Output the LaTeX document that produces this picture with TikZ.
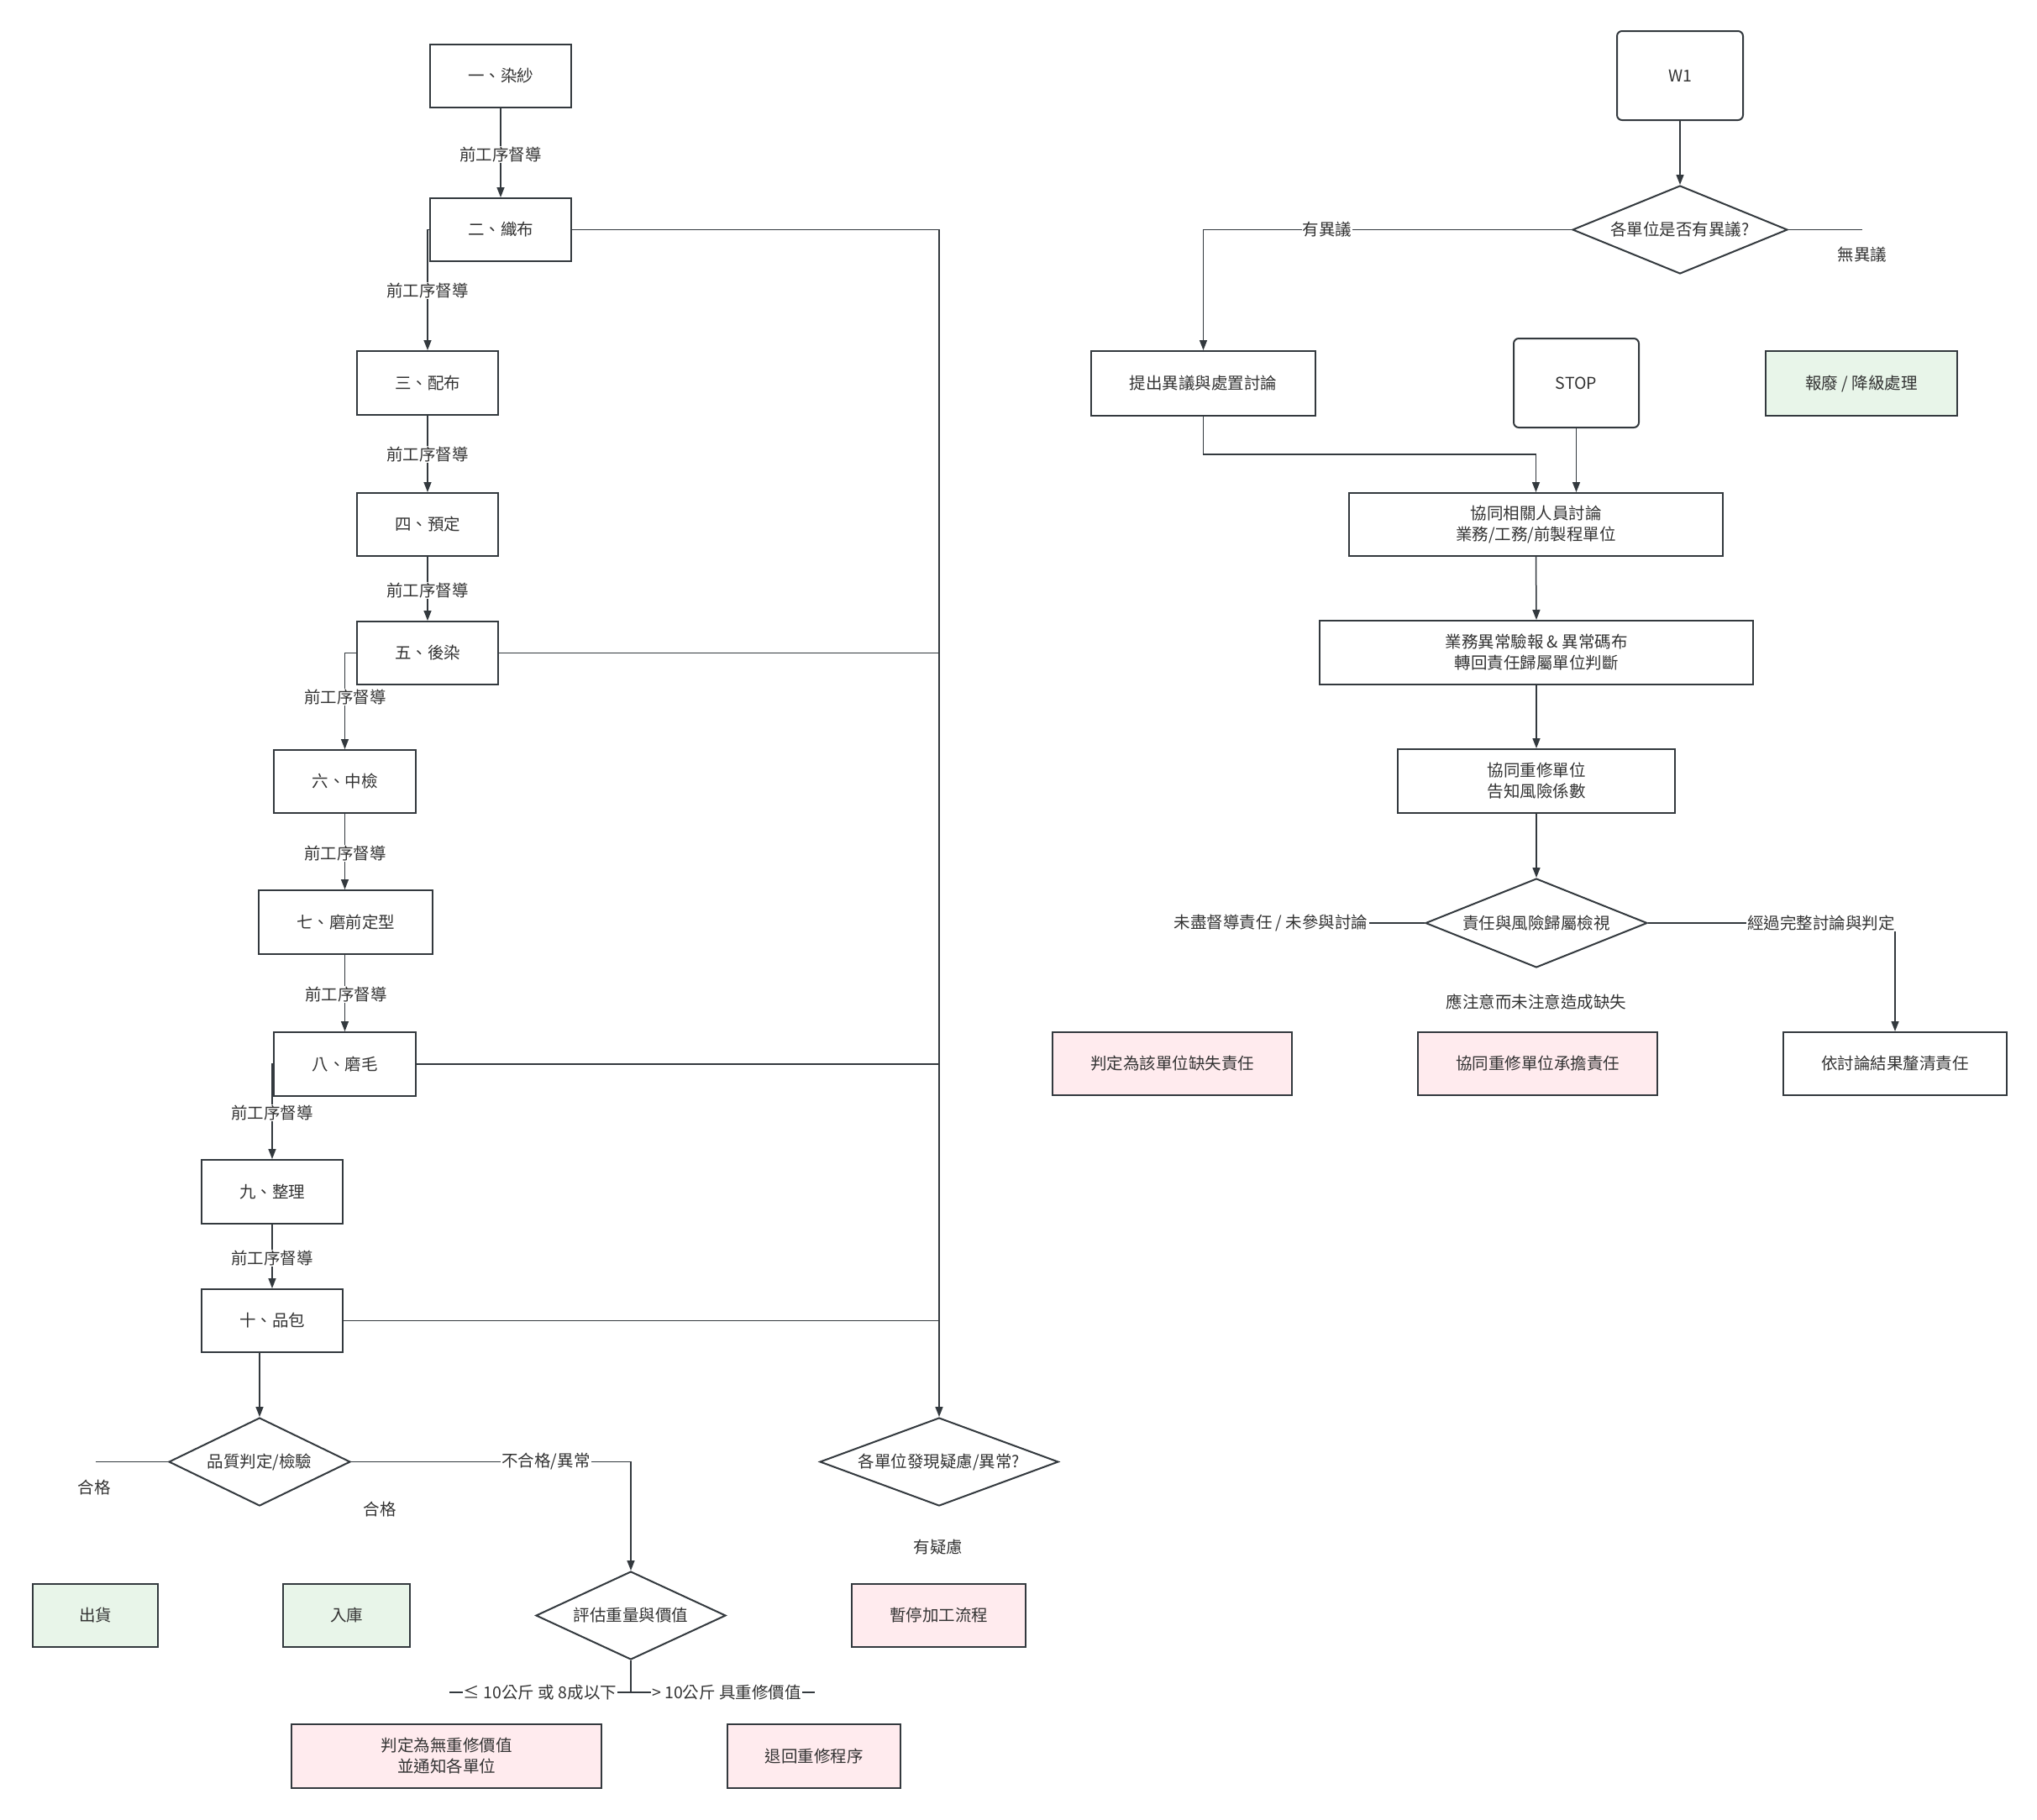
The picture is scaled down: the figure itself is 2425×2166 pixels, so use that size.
\documentclass[tikz,border=0pt]{standalone}
\usepackage{fontspec}
\setmainfont{Noto Sans CJK TC}
\usetikzlibrary{arrows.meta,shapes.geometric}
\definecolor{bd}{HTML}{33393E}
\definecolor{tx}{HTML}{333333}
\definecolor{gfill}{HTML}{E8F5E9}
\definecolor{pfill}{HTML}{FFEBEE}
\begin{document}
\begin{tikzpicture}[x=1pt,y=-1pt,
  every node/.style={font=\fontsize{19.5pt}{25pt}\selectfont, text=tx},
  box/.style={draw=bd, line width=2pt, fill=white, inner sep=0pt, align=center},
  gbox/.style={box, fill=gfill},
  pbox/.style={box, fill=pfill},
  rbox/.style={box, rounded corners=6pt},
  dia/.style={draw=bd, line width=2pt, diamond, inner sep=0pt, fill=white},
  con/.style={draw=bd, line width=1.5pt},
  arr/.style={con, -{Triangle[length=12pt,width=9pt]}},
  lbl/.style={fill=white, inner sep=1pt},
  txt/.style={inner sep=1pt},
]
\useasboundingbox (0,0) rectangle (2425,2166);

% ---------- left column ----------
\node[box, minimum width=168pt, minimum height=75pt] (n1) at (596,90.5) {一、染紗};
\node[box, minimum width=168pt, minimum height=75pt] (n2) at (596,273.5) {二、織布};
\node[box, minimum width=168pt, minimum height=76pt] (n3) at (509,456) {三、配布};
\node[box, minimum width=168pt, minimum height=75pt] (n4) at (509,624.5) {四、預定};
\node[box, minimum width=168pt, minimum height=75pt] (n5) at (509,777.5) {五、後染};
\node[box, minimum width=169pt, minimum height=75pt] (n6) at (410.5,930.5) {六、中檢};
\node[box, minimum width=207pt, minimum height=76pt] (n7) at (411.5,1098) {七、磨前定型};
\node[box, minimum width=169pt, minimum height=76pt] (n8) at (410.5,1267) {八、磨毛};
\node[box, minimum width=168pt, minimum height=76pt] (n9) at (324,1419) {九、整理};
\node[box, minimum width=168pt, minimum height=75pt] (n10) at (324,1572.5) {十、品包};

\node[dia, minimum width=216pt, minimum height=105pt, aspect=2.057] (qc) at (309,1740.5) {品質判定/檢驗};
\node[dia, minimum width=284pt, minimum height=105pt, aspect=2.705] (qx) at (1118,1740.5) {各單位發現疑慮/異常?};
\node[dia, minimum width=226pt, minimum height=105pt, aspect=2.152] (ev) at (751,1923.5) {評估重量與價值};

\node[gbox, minimum width=149pt, minimum height=75pt] (out) at (113.5,1923.5) {出貨};
\node[gbox, minimum width=151pt, minimum height=75pt] (inn) at (412.5,1923.5) {入庫};
\node[pbox, minimum width=207pt, minimum height=75pt] (stp) at (1117.5,1923.5) {暫停加工流程};
\node[pbox, minimum width=369pt, minimum height=76pt] (nv) at (531.5,2091) {判定為無重修價值\\並通知各單位};
\node[pbox, minimum width=206pt, minimum height=76pt] (rt) at (969,2091) {退回重修程序};

% connectors left
\draw[arr] (n1.south) -- (n2.north);
\draw[arr] (n2.west) -| (n3.north);
\draw[arr] (n3.south) -- (n4.north);
\draw[arr] (n4.south) -- (n5.north);
\draw[arr] (n5.west) -| (n6.north);
\draw[arr] (n6.south) -- (n6.south |- n7.north);
\draw[arr] (n8.north |- n7.south) -- (n8.north);
\draw[arr] (n8.west) -| (n9.north);
\draw[arr] (n9.south) -- (n10.north);
\draw[arr] (qc.north |- n10.south) -- (qc.north);

\node[lbl] (l1) at (596,184) {前工序督導};
\node[lbl] (l2) at (509,346) {前工序督導};
\node[lbl] (l3) at (509,541) {前工序督導};
\node[lbl] (l4) at (509,703) {前工序督導};
\node[lbl] (l5) at (411,830) {前工序督導};
\node[lbl] (l6) at (411,1016) {前工序督導};
\node[lbl] (l7) at (412,1184) {前工序督導};
\node[lbl] (l8) at (324,1325) {前工序督導};
\node[lbl] (l9) at (324,1498) {前工序督導};

% main collector line
\draw[arr] (n2.east) -| (qx.north);
\draw[con] (n5.east) -- (n5.east -| qx.north);
\draw[con] (n8.east) -- (n8.east -| qx.north);
\draw[con] (n10.east) -- (n10.east -| qx.north);

% quality decision
\coordinate (qcl) at (114,1740.5);
\draw[con] (qc.west) -- (qcl);
\draw[arr] (qc.east) -| (ev.north);
\node[lbl] (lng) at (650,1740.5) {不合格/異常};
\node[txt] (lok1) at (112,1771) {合格};
\node[txt] (lok2) at (452,1797) {合格};
\node[txt] (lsus) at (1117,1842) {有疑慮};

\coordinate (jb) at (751,2015);
\coordinate (jl) at (535,2015);
\coordinate (jr) at (970,2015);
\draw[con] (ev.south) -- (jb);
\draw[con] (jl) -- (jr);
\node[lbl] (lle) at (643,2015) {≤ 10公斤 或 8成以下};
\node[lbl] (lgt) at (865,2015) {>\ 10公斤 具重修價值};

% ---------- right column ----------
\node[rbox, minimum width=150pt, minimum height=106pt] (w1) at (2000,90) {W1};
\node[dia, minimum width=256pt, minimum height=105pt, aspect=2.438] (dq) at (2000,273.5) {各單位是否有異議?};
\node[box, minimum width=267pt, minimum height=77pt] (obj) at (1432.5,456.5) {提出異議與處置討論};
\node[rbox, minimum width=149pt, minimum height=106pt] (stop) at (1876.5,456) {STOP};
\node[gbox, minimum width=228pt, minimum height=77pt] (scr) at (2216,456.5) {報廢 / 降級處理};
\node[box, minimum width=445pt, minimum height=75pt] (co) at (1828.5,624.5) {協同相關人員討論\\業務/工務/前製程單位};
\node[box, minimum width=516pt, minimum height=76pt] (biz) at (1829,777) {業務異常驗報\ \&\ 異常碼布\\轉回責任歸屬單位判斷};
\node[box, minimum width=330pt, minimum height=76pt] (rep) at (1829,930) {協同重修單位\\告知風險係數};
\node[dia, minimum width=264pt, minimum height=106pt, aspect=2.491] (rd) at (1829,1099) {責任與風險歸屬檢視};
\node[pbox, minimum width=285pt, minimum height=75pt] (r1) at (1395.5,1266.5) {判定為該單位缺失責任};
\node[pbox, minimum width=285pt, minimum height=75pt] (r2) at (1830.5,1266.5) {協同重修單位承擔責任};
\node[box, minimum width=266pt, minimum height=75pt] (r3) at (2256,1266.5) {依討論結果釐清責任};

\draw[arr] (w1.south) -- (dq.north);
\draw[arr] (dq.west) -| (obj.north);
\node[lbl] (lyes) at (1580,273.5) {有異議};
\coordinate (dqr) at (2217,273.5);
\draw[con] (dq.east) -- (dqr);
\node[txt] (lno) at (2217,303) {無異議};

\coordinate (oc) at (1432.5,541);
\draw[arr] (obj.south) -- (oc) -| (co.north);
\draw[arr] (stop.south) -- (stop.south |- co.north);
\draw[arr] (co.south) -- (biz.north);
\draw[arr] (biz.south) -- (rep.north);
\draw[arr] (rep.south) -- (rd.north);

\node[lbl] (lleft) at (1513,1099) {未盡督導責任 / 未參與討論};
\draw[con] (rd.west) -- (lleft.east);
\coordinate (rdc) at (2256,1099);
\draw[arr] (rd.east) -- (rdc) -- (r3.north);
\node[lbl] (lright) at (2168,1099) {經過完整討論與判定};
\node[txt] (lmid) at (1829,1193) {應注意而未注意造成缺失};

\end{tikzpicture}
\end{document}
